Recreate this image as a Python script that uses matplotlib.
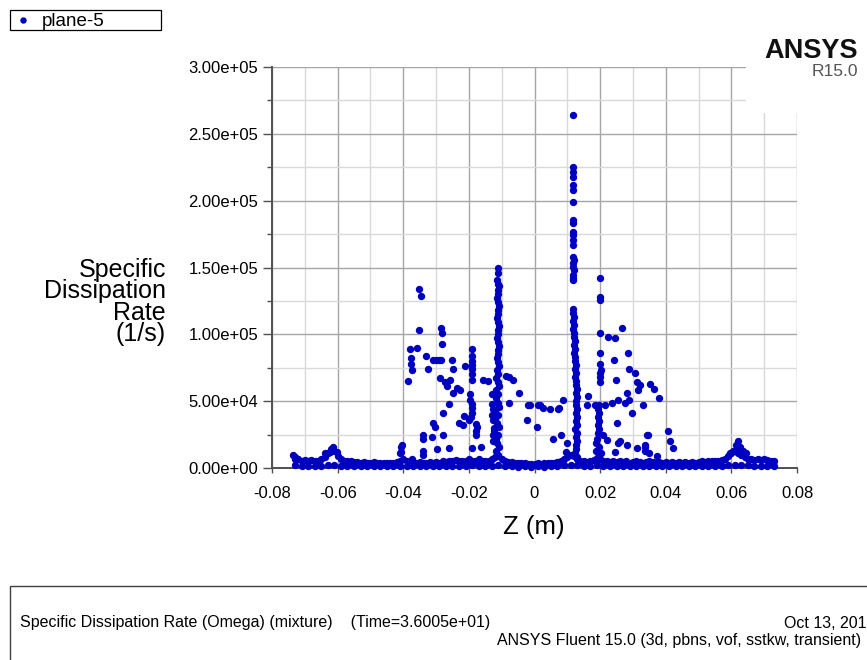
import numpy as np
import matplotlib
matplotlib.use('Agg')
import matplotlib.pyplot as plt
from matplotlib.patches import Rectangle
from matplotlib.lines import Line2D
from matplotlib.ticker import MultipleLocator, FuncFormatter

plt.rcParams['font.family'] = ['Liberation Sans', 'DejaVu Sans']
plt.rcParams['axes.unicode_minus'] = False

# --- data (z in mm, omega in 1e3 1/s) ---

# dense band of near-zero values along the whole line (upper row)
z_band = [-73, -72, -71, -70, -69, -68, -67, -66, -65, -64, -63, -62, -61, -60,
          -59, -58, -57, -56, -55, -54, -53, -52, -51, -50, -49, -48, -47, -46,
          -45, -44, -43, -42, -41, -40, -39, -38, -37, -36, -35, -34, -33, -32,
          -31, -30, -29, -28, -27, -26, -25, -24, -23, -22, -21, -20, -19, -18,
          -17, -16, -15, -14, -13, -12, -11, -10, -9, -8, -7, -6, -5, -4, -3,
          -2, -1, 0, 1, 2, 3, 4, 5, 6, 7, 8, 9, 10, 11, 12, 13, 14, 15, 16, 17,
          18, 19, 20, 21, 22, 23, 24, 25, 26, 27, 28, 29, 30, 31, 32, 33, 34,
          35, 36, 37, 38, 39, 40, 41, 42, 43, 44, 45, 46, 47, 48, 49, 50, 51,
          52, 53, 54, 55, 56, 57, 58, 59, 60, 61, 62, 63, 64, 65, 66, 67, 68,
          69, 70, 71, 72, 73]
w_band = [8.0, 6.5, 5.5, 6.0, 5.5, 6.0, 5.0, 5.5, 6.5, 8.0, 11.0, 14.0, 12.5, 9.0,
          6.5, 5.5, 5.0, 5.0, 4.5, 4.5, 4.0, 4.5, 4.0, 4.0, 4.5, 4.0, 4.0, 3.5,
          4.0, 4.0, 4.0, 4.5, 5.5, 6.5, 5.0, 4.0, 3.5, 4.0, 4.5, 4.0, 3.5, 4.5,
          4.0, 4.5, 4.0, 5.0, 4.5, 5.5, 5.0, 6.0, 5.0, 5.5, 5.0, 6.5, 5.5, 5.0,
          6.5, 5.5, 5.0, 5.5, 7.0, 8.0, 9.0, 7.0, 5.0, 4.5, 4.5, 4.0, 3.5, 4.0, 3.5,
          3.0, 3.0, 3.0, 3.5, 3.0, 3.5, 3.5, 4.0, 4.0, 4.5, 5.5, 7.0, 8.5, 10.0, 9.0,
          7.0, 5.5, 5.0, 4.5, 5.0, 6.0, 7.5, 7.0, 5.5, 5.0, 4.5, 5.0, 4.5, 5.0,
          4.5, 5.0, 4.0, 4.5, 5.0, 4.5, 4.0, 4.5, 5.0, 4.5, 4.0, 4.5, 4.0, 4.5,
          4.0, 4.5, 4.0, 4.5, 4.0, 4.5, 4.0, 4.5, 4.0, 4.5, 5.0, 4.5, 5.0, 5.5,
          5.0, 5.5, 6.0, 7.0, 9.0, 11.0, 13.0, 11.5, 9.5, 8.0, 7.0, 6.5, 6.0, 6.5,
          6.0, 6.5, 6.0, 5.5, 5.0]

# lower row of the band
z_low = [-73, -71, -69, -67, -65, -63, -61, -59, -57, -55, -53, -51, -49, -47,
         -45, -43, -41, -39, -37, -35, -33, -31, -29, -27, -25, -23, -21, -19,
         -17, -15, -13, -11, -9, -7, -5, -3, -1, 1, 3, 5, 7, 9, 11, 13, 15, 17,
         19, 21, 23, 25, 27, 29, 31, 33, 35, 37, 39, 41, 43, 45, 47, 49, 51, 53,
         55, 57, 59, 61, 63, 65, 67, 69, 71, 73]
w_low = [2.0, 1.5, 1.5, 1.8, 1.5, 2.0, 2.0, 1.5, 1.2, 1.5, 1.2, 1.5, 1.2, 1.5,
         1.2, 1.5, 1.8, 1.5, 1.2, 1.5, 1.2, 1.5, 1.2, 1.5, 1.5, 1.8, 1.5, 2.0,
         1.5, 1.5, 1.8, 2.0, 1.5, 1.2, 1.0, 1.2, 1.0, 1.2, 1.0, 1.2, 1.5, 2.0,
         2.5, 2.0, 1.5, 1.5, 2.0, 1.5, 1.5, 1.2, 1.5, 1.2, 1.5, 1.2, 1.5, 1.2,
         1.5, 1.2, 1.5, 1.2, 1.5, 1.2, 1.5, 1.2, 1.5, 1.5, 2.0, 2.5, 2.5, 2.0,
         1.8, 1.8, 1.5, 1.5]

# vertical streak near z = -11 mm
z_spike_a = [-11.2, -11.0, -11.3, -11.1, -10.9, -11.2, -11.0, -11.3, -11.1, -10.9,
             -11.2, -11.0, -11.3, -11.1, -10.9, -11.2, -11.0, -11.3, -11.1, -10.9,
             -11.2, -11.0, -11.4, -11.1, -10.8, -11.5, -11.0, -11.6, -11.1, -10.7,
             -11.6, -11.0, -11.8, -11.2, -10.8, -12.0, -11.2, -11.9, -11.3, -10.8,
             -12.2, -11.2, -11.8, -11.4, -10.9, -11.6, -11.1]
w_spike_a = [150, 146, 141, 138, 136, 133, 130, 127, 124, 121, 118, 115, 112, 109,
             106, 103, 100, 97, 94, 91, 88, 85, 82, 79, 76, 73, 70, 67, 64, 61, 58,
             55, 52, 49, 46, 43, 40, 37, 34, 31, 28, 25, 22, 19, 16, 13, 10]

# vertical streak near z = +12 mm
z_spike_b = [11.7, 11.7, 11.8, 11.7, 11.8, 11.7, 11.8, 11.7, 11.6, 11.8, 11.7,
             11.8, 11.7, 11.8, 11.9, 11.8, 11.7, 11.9, 11.8, 11.7, 11.8,
             11.6, 11.8, 11.9, 11.7, 12.0, 11.8, 12.1, 11.9, 12.2, 12.0, 12.3,
             12.1, 12.4, 12.2, 12.5, 12.3, 12.6, 12.4, 12.7, 12.5, 12.8, 12.6,
             12.9, 12.7, 12.6, 12.8, 12.5, 12.9, 12.6, 12.8, 12.4, 13.0, 12.6,
             12.9, 12.5, 12.7, 12.4, 12.8]
w_spike_b = [264, 225.4, 221.7, 218.0, 211.7, 208.0, 199.2, 185.5, 183.5, 176.8,
             174.3, 170.6, 166.8, 158.1, 155.6, 153.1, 150.6, 148.1, 144.4, 141.9,
             140.6, 119, 116, 113, 110, 107, 104, 101, 98, 95, 92, 89, 86, 83, 80,
             77, 74, 71, 68, 65, 62, 59, 56, 53, 50, 47, 44, 41, 38, 35, 32, 29,
             26, 23, 20, 17, 14, 11, 8]

# vertical streak near z = +20 mm
z_spike_c = [20.0, 20.0, 20.1, 20.0, 20.0, 20.1, 20.2, 20.1, 20.0, 19.9, 19.6,
             19.4, 19.8, 19.5, 19.7, 19.3, 19.8, 19.5, 19.0, 18.8, 19.6, 18.8, 20.4]
w_spike_c = [142, 128, 126, 101, 86, 78, 73, 71, 68, 64, 47, 44, 41, 38, 35, 32,
             29, 26, 22, 19, 16, 13, 11]

# scattered points
z_scatter = [-73.6, -73.0, -61.4, -62.3, -60.2, -63.8,
             -40.7, -40.7, -40.4, -41.0,
             -38.5, -38.0, -37.7, -37.5, -37.3, -35.8, -35.2, -34.6, -35.2,
             -34.0, -34.0, -34.0, -34.0, -37.3, -33.1, -32.4, -31.0, -30.0,
             -29.2, -28.5, -28.5, -28.2, -28.2, -25.1, -24.8, -28.8, -27.3,
             -25.7, -26.7, -23.6, -22.7, -24.8, -26.1, -27.9, -30.9, -30.3,
             -27.9, -31.2, -29.7, -26.1, -23.0, -21.8, -21.5, -21.2,
             -19.0, -19.0, -19.0, -19.0, -19.0, -19.0, -19.0, -19.6, -19.6,
             -19.0, -19.0, -19.0, -19.3, -20.0, -17.8, -17.5, -17.8, -17.8,
             -19.0, -16.3,
             -15.7, -14.2, -13.0, -13.0, -12.8, -12.9, -12.6, -12.3, -12.5, -12.8,
             -8.7, -7.8, -6.6, -4.7, -7.8, -2.3, -2.0, -1.4, 0.8, 1.1, 1.7, 2.5,
             4.7, 5.6, 7.2, 7.5, 8.0, 8.7, 9.9, 9.6,
             22.4, 24.5, 26.7, 28.5, 24.2, 24.8, 28.8, 30.6, 31.2, 32.1, 31.5,
             35.2, 36.4, 37.9, 28.2, 28.8, 27.6, 29.7, 33.1, 25.4, 23.6, 21.5,
             18.4, 16.0, 16.3, 25.1, 34.6, 40.7, 41.3, 42.2, 25.4, 28.2, 31.2,
             33.7, 22.1, 24.5, 21.0, 26.0, 34.3, 33.7, 33.7, 34.9, 37.3,
             62.0, 60.5, 63.5, 59.6, 64.6, 61.5, 62.6]
w_scatter = [10, 7, 16, 12, 12, 11,
             16, 12, 17, 11,
             65, 89, 82, 78, 73, 90, 134, 129, 103,
             25, 22, 13, 10, 7, 84, 74, 81, 81,
             81, 81, 105, 101, 93, 81, 74, 67, 64,
             66, 61, 60, 58, 56, 48, 41, 34, 31,
             25, 23, 14, 15, 34, 32, 39, 76,
             89, 84, 80, 77, 74, 70, 66, 55, 51,
             48, 45, 41, 38, 36, 33, 31, 28, 25,
             15, 16,
             66, 65, 55, 48, 44, 40, 36, 30, 25, 20,
             69, 68, 66, 56, 49, 36, 47, 47, 31, 47, 47, 45,
             44, 22, 44, 45, 25, 51, 19, 12,
             98, 97, 105, 86, 81, 66, 74, 71, 64, 62, 58,
             63, 59, 52, 56, 51, 49, 41, 47, 51, 49, 47,
             47, 47, 54, 34, 25, 28, 20, 15, 19, 17, 15,
             16, 21, 12, 25, 20, 25, 17, 13, 11, 9,
             20, 13, 13, 11, 11, 17, 16]

z_all = np.array(z_band + z_low + z_spike_a + z_spike_b + z_spike_c + z_scatter) / 1000.0
w_all = np.array(w_band + w_low + w_spike_a + w_spike_b + w_spike_c + w_scatter) * 1000.0

W, H = 867, 660
fig = plt.figure(figsize=(W / 100, H / 100), dpi=100)
ax = fig.add_axes([272 / W, 1 - 468 / H, 525 / W, 401 / H])

ax.plot(z_all, w_all, 'o', ms=5.3, color='#0000c0', mec='none', clip_on=False, zorder=3)

ax.set_xlim(-0.08, 0.08)
ax.set_ylim(0, 3e5)
ax.xaxis.set_major_locator(MultipleLocator(0.02))
ax.xaxis.set_minor_locator(MultipleLocator(0.01))
ax.yaxis.set_major_locator(MultipleLocator(5e4))
ax.yaxis.set_minor_locator(MultipleLocator(2.5e4))
ax.xaxis.set_major_formatter(FuncFormatter(lambda v, p: '0' if abs(v) < 1e-9 else f'{v:.2f}'))
ax.yaxis.set_major_formatter(FuncFormatter(lambda v, p: f'{v:.2e}'))

ax.grid(which='major', color='#a6a6a6', lw=1.0)
ax.grid(which='minor', color='#d9d9d9', lw=1.0)
ax.set_axisbelow(True)

for s in ['top', 'right']:
    ax.spines[s].set_visible(False)
for s in ['left', 'bottom']:
    ax.spines[s].set_color('#505050')
    ax.spines[s].set_linewidth(1.4)

ax.tick_params(axis='y', which='major', length=6.5, width=1, color='#505050',
               pad=3.5, labelsize=12)
ax.tick_params(axis='y', which='minor', length=3.6, width=1, color='#505050')
ax.tick_params(axis='x', which='major', length=3.6, width=1, color='#505050',
               pad=9, labelsize=12)
ax.tick_params(axis='x', which='minor', length=0)

fig.text(166 / W, 1 - 302 / H, 'Specific\nDissipation\nRate\n(1/s)', ha='right',
         va='center', multialignment='right', fontsize=18, linespacing=0.85)
fig.text(534 / W, 1 - 527 / H, 'Z (m)', ha='center', va='center', fontsize=18.5)

# legend box at top left
fig.add_artist(Rectangle((10 / W, 1 - 30 / H), 151 / W, 20 / H, transform=fig.transFigure,
                         fill=False, ec='black', lw=0.9))
fig.add_artist(Line2D([23 / W], [1 - 20 / H], marker='o', ms=4.6, color='#0000c0',
                      mec='none', transform=fig.transFigure))
fig.text(42 / W, 1 - 21.5 / H, 'plane-5', ha='left', va='center', fontsize=13.5)

# logo area
fig.add_artist(Rectangle((746 / W, 1 - 113 / H), 121 / W, 113 / H, transform=fig.transFigure,
                         fc='white', ec='none', zorder=10))
fig.text(858 / W, 1 - 51 / H, 'ANSYS', ha='right', va='center', fontsize=19.5,
         fontweight='bold', color='#111111', zorder=11)
fig.text(858 / W, 1 - 71 / H, 'R15.0', ha='right', va='center', fontsize=12.5,
         color='#555555', zorder=11)

# footer box
fig.add_artist(Rectangle((10 / W, -0.05), 1.0, 74 / H + 0.05, transform=fig.transFigure,
                         fill=False, ec='#404040', lw=1.0))
fig.text(20 / W, 1 - 623 / H,
         'Specific Dissipation Rate (Omega) (mixture)    (Time=3.6005e+01)',
         ha='left', va='center', fontsize=11.5)
fig.text(866 / W, 1 - 623 / H, 'Oct 13, 201', ha='right', va='center', fontsize=11.5)
fig.text(497 / W, 1 - 640 / H, 'ANSYS Fluent 15.0 (3d, pbns, vof, sstkw, transient)',
         ha='left', va='center', fontsize=11.5)

fig.savefig('out.png', dpi=100)
